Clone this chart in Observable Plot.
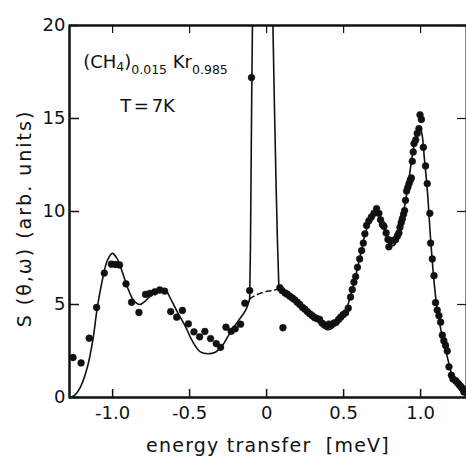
<!DOCTYPE html>
<html>
<head>
<meta charset="utf-8">
<script src="https://cdn.jsdelivr.net/npm/d3@7"></script>
<script src="https://cdn.jsdelivr.net/npm/@observablehq/plot@0.6"></script>
<style>
  html, body { margin: 0; padding: 0; background: #fff; }
  #chart svg { font-family: "DejaVu Sans", sans-serif; font-size: 18px; color: #111; }
</style>
</head>
<body>
<div id="chart"></div>
<script>
// ---- axes / ticks ----
const xDomain = [-1.28, 1.298];
const yDomain = [0, 20];
const xTicks = [-1, -0.5, 0, 0.5, 1];
const xTickLabels = ["-1.0", "-0.5", "0", "0.5", "1.0"];
const yTicks = [0, 5, 10, 15, 20];
const yTickLabels = ["0", "5", "10", "15", "20"];
const xLabel = "energy transfer  [meV]";
const yLabel = "S (θ,ω) (arb. units)";

// ---- measured points (energy transfer, intensity) ----
const pointsX = [
  -1.257, -1.205, -1.152, -1.104, -1.054, -1.008, -0.981, -0.955, -0.913, -0.877,
  -0.829, -0.786, -0.757, -0.726, -0.694, -0.662, -0.623, -0.584, -0.547, -0.508,
  -0.472, -0.435, -0.401, -0.364, -0.327, -0.299, -0.264, -0.230, -0.204, -0.169,
  -0.141, -0.110, -0.098, 0.086, 0.106,
  0.100, 0.120, 0.134, 0.150, 0.167, 0.183, 0.199, 0.215, 0.232, 0.248,
  0.264, 0.280, 0.296, 0.310, 0.325, 0.344, 0.360, 0.375, 0.390, 0.405,
  0.420, 0.437, 0.452, 0.468, 0.481, 0.497, 0.513, 0.530, 0.545, 0.556,
  0.567, 0.578, 0.590, 0.604, 0.617, 0.628, 0.638, 0.649, 0.664, 0.680,
  0.697, 0.714, 0.729, 0.740, 0.752, 0.762, 0.776, 0.788, 0.794, 0.810,
  0.825, 0.838, 0.850, 0.859, 0.866, 0.874, 0.881, 0.889, 0.896, 0.902,
  0.909, 0.917, 0.925, 0.933, 0.940, 0.946, 0.952, 0.957, 0.968, 0.978,
  0.989, 0.996, 1.005, 1.018, 1.032, 1.043, 1.060, 1.065, 1.076, 1.087,
  1.097, 1.108, 1.119, 1.130, 1.141, 1.151, 1.162, 1.173, 1.184, 1.200,
  1.210, 1.227, 1.238, 1.249, 1.260, 1.271, 1.281
];
const pointsY = [
  2.15, 1.86, 3.19, 4.84, 6.69, 7.17, 7.15, 7.13, 6.11, 5.12,
  4.57, 5.54, 5.60, 5.68, 5.78, 5.72, 4.62, 4.32, 4.68, 3.96,
  3.53, 3.26, 3.55, 3.17, 2.90, 2.70, 3.78, 3.56, 3.69, 3.94,
  5.07, 5.75, 17.2, 5.90, 3.75,
  5.75, 5.62, 5.55, 5.45, 5.35, 5.25, 5.12, 5.00, 4.85, 4.75,
  4.62, 4.50, 4.40, 4.30, 4.25, 4.20, 4.00, 3.90, 3.85, 3.95,
  3.90, 4.00, 4.05, 4.20, 4.32, 4.45, 4.55, 4.80, 5.40, 5.80,
  6.20, 6.50, 7.00, 7.45, 7.90, 8.30, 8.80, 9.25, 9.50, 9.70,
  9.90, 10.15, 9.90, 9.55, 9.30, 9.20, 8.85, 8.50, 8.10, 8.40,
  8.45, 8.50, 8.70, 8.85, 9.15, 9.40, 9.60, 9.85, 10.05, 10.60,
  11.10, 11.30, 11.50, 11.70, 11.80, 12.70, 13.20, 13.65, 13.85, 14.20,
  14.45, 15.20, 14.95, 13.45, 12.45, 11.50, 9.90, 8.30, 7.45, 6.55,
  5.10, 4.70, 4.40, 4.05, 3.35, 3.05, 2.80, 2.50, 1.65, 1.20,
  1.00, 0.90, 0.80, 0.70, 0.60, 0.50, 0.30
];

// ---- fitted curve, solid: left wing ----
const fitLeftX = [-1.28, -1.25, -1.21, -1.165, -1.13, -1.10, -1.067, -1.035, -1.002, -0.97,
  -0.937, -0.905, -0.862, -0.823, -0.786, -0.742, -0.69, -0.656, -0.623, -0.58,
  -0.526, -0.48, -0.43, -0.38, -0.33, -0.29, -0.25, -0.19, -0.136, -0.11];
const fitLeftY = [0, 0.1, 0.55, 1.6, 3.0, 4.8, 6.3, 7.35, 7.75, 7.45,
  6.75, 5.95, 5.2, 5.0, 5.2, 5.55, 5.78, 5.75, 5.3, 4.6,
  3.8, 3.0, 2.45, 2.35, 2.45, 2.75, 3.3, 4.05, 4.7, 5.3];

// ---- fitted curve, solid: elastic peak (off scale) ----
const elasticX = [-0.11, -0.105, -0.101, -0.097, -0.092, -0.088, 0.036, 0.041, 0.05, 0.06, 0.07, 0.08];
const elasticY = [5.3, 8, 12, 16, 20, 24, 24, 20, 16, 12, 8.5, 5.85];

// ---- fitted curve, solid: right wing ----
const fitRightX = [0.08, 0.10, 0.15, 0.20, 0.25, 0.30, 0.35, 0.39, 0.42, 0.45,
  0.49, 0.52, 0.55, 0.58, 0.61, 0.64, 0.67, 0.70, 0.72, 0.75,
  0.78, 0.80, 0.83, 0.86, 0.89, 0.92, 0.95, 0.975, 0.99, 1.005,
  1.025, 1.045, 1.065, 1.09, 1.11, 1.14, 1.17, 1.20, 1.23, 1.26, 1.29];
const fitRightY = [5.85, 5.7, 5.35, 5.0, 4.62, 4.3, 3.95, 3.65, 3.7, 3.9,
  4.3, 4.8, 5.6, 6.6, 7.7, 8.8, 9.5, 9.9, 10.0, 9.5,
  8.7, 8.2, 8.2, 8.9, 10.0, 11.5, 13.2, 14.2, 14.5, 14.3,
  12.8, 11.0, 8.5, 6.0, 4.6, 3.3, 2.3, 1.3, 0.7, 0.35, 0.1];

// ---- dashed: inelastic background under the elastic peak ----
const dashX = [-0.11, -0.07, -0.03, 0.01, 0.05, 0.08];
const dashY = [5.3, 5.5, 5.63, 5.72, 5.77, 5.85];

// ---- annotation (anchor in data units) ----
const formulaParts = [
  {t: "(CH", sub: false}, {t: "4", sub: "small"}, {t: ")", sub: false},
  {t: "0.015", sub: true}, {t: " Kr", sub: false}, {t: "0.985", sub: true}
];
const formulaAt = [-1.188, 17.69];
const tempText = "T = 7K";
const tempAt = [-0.948, 15.32];

const zip = (xs, ys) => xs.map((x, i) => ({x, y: ys[i]}));
const points = zip(pointsX, pointsY);
const fitLeft = zip(fitLeftX, fitLeftY);
const elastic = zip(elasticX, elasticY);
const fitRight = zip(fitRightX, fitRightY);
const dashed = zip(dashX, dashY);

const W = 466, H = 456, mL = 69, mR = 0, mT = 25, mB = 59;
const plotW = W - mL - mR, plotH = H - mT - mB;
const font = "DejaVu Sans, sans-serif";
const ink = "#111";

const chart = Plot.plot({
  width: W, height: H,
  marginLeft: mL, marginRight: mR, marginTop: mT, marginBottom: mB,
  x: {domain: xDomain},
  y: {domain: yDomain},
  marks: [
    // frame (as in the reference: left, top, bottom lines; right edge at the picture border)
    Plot.frame({stroke: ink, strokeWidth: 2}),
    Plot.ruleX([xDomain[0]], {stroke: ink, strokeWidth: 2}),
    Plot.ruleY(yDomain, {stroke: ink, strokeWidth: 2}),
    // inward ticks
    Plot.tickX(xTicks, {x: d => d, insetTop: plotH - 8, stroke: ink, strokeWidth: 1.5}),
    Plot.tickX(xTicks, {x: d => d, insetBottom: plotH - 8, stroke: ink, strokeWidth: 1.2}),
    Plot.tickY(yTicks, {y: d => d, insetRight: plotW - 10, stroke: ink, strokeWidth: 1.5}),
    Plot.tickY(yTicks, {y: d => d, insetLeft: plotW - 9, stroke: ink, strokeWidth: 1.2}),
    // fit curves
    Plot.line(fitLeft, {x: "x", y: "y", stroke: ink, strokeWidth: 1.6, curve: "catmull-rom"}),
    Plot.line(elastic, {x: "x", y: "y", stroke: ink, strokeWidth: 1.6, curve: "linear", clip: true}),
    Plot.line(fitRight, {x: "x", y: "y", stroke: ink, strokeWidth: 1.6, curve: "catmull-rom"}),
    Plot.line(dashed, {x: "x", y: "y", stroke: ink, strokeWidth: 1.5, strokeDasharray: "5,4", curve: "catmull-rom"}),
    // data points
    Plot.dot(points, {x: "x", y: "y", r: 3.4, fill: ink, stroke: ink, strokeWidth: 0.5}),
    // tick labels
    Plot.axisX(xTicks, {tickSize: 0, tickPadding: 9, label: null,
      tickFormat: d => xTickLabels[xTicks.indexOf(d)], fontSize: 18}),
    Plot.axisY(yTicks, {tickSize: 0, tickPadding: 4, label: null,
      tickFormat: d => yTickLabels[yTicks.indexOf(d)], fontSize: 18}),
    // axis titles
    Plot.text([xLabel], {text: d => d, frameAnchor: "bottom", lineAnchor: "middle", textAnchor: "middle",
      dy: 48, fontSize: 19}),
    Plot.text([yLabel], {text: d => d, frameAnchor: "left", rotate: -90, textAnchor: "middle", lineAnchor: "middle",
      dx: -45, dy: 7, fontSize: 19})
  ]
});

d3.select(chart).selectAll("text").filter(function() { return this.textContent === yLabel; })
  .attr("letter-spacing", "2px");
d3.select(chart).selectAll("text").filter(function() { return this.textContent === xLabel; })
  .attr("letter-spacing", "1.2px");

const sx = chart.scale("x"), sy = chart.scale("y");

// annotation with subscripts
const g = d3.select(chart).append("g").attr("font-family", font).attr("fill", ink);
const ft = g.append("text").attr("x", sx.apply(formulaAt[0])).attr("y", sy.apply(formulaAt[1]))
  .attr("text-anchor", "start").attr("font-size", 18);
let shift = 0;
formulaParts.forEach(p => {
  const target = p.sub === true ? 6 : p.sub === "small" ? 3 : 0;
  ft.append("tspan").attr("dy", target - shift)
    .attr("font-size", p.sub ? 12.5 : 18).text(p.t);
  shift = target;
});
g.append("text").attr("x", sx.apply(tempAt[0])).attr("y", sy.apply(tempAt[1]))
  .attr("text-anchor", "start").attr("font-size", 18).attr("word-spacing", "-3px").text(tempText);

document.getElementById("chart").appendChild(chart);
</script>
</body>
</html>
